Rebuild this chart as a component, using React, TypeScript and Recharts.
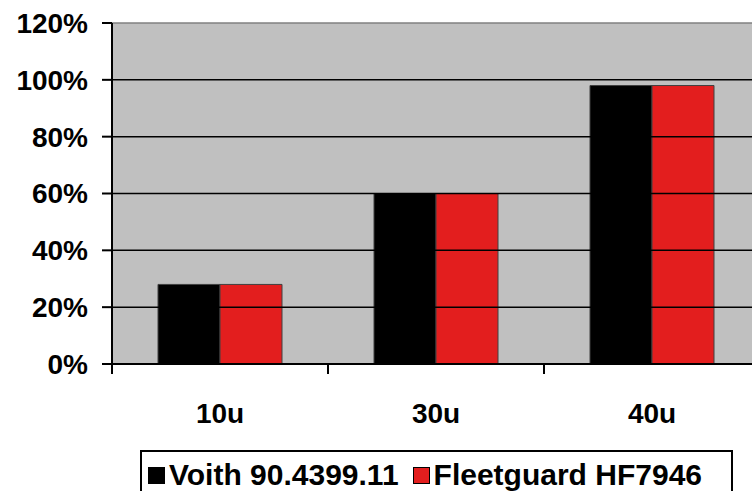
import React from "react";
import { ComposedChart, Bar, XAxis, YAxis, CartesianGrid, ReferenceLine } from "recharts";

const categories = ["10u", "30u", "40u"];
const seriesNames = ["Voith 90.4399.11", "Fleetguard HF7946"];
const voith = [0.28, 0.6, 0.98];
const fleetguard = [0.28, 0.6, 0.98];
const yTicks = [0, 0.2, 0.4, 0.6, 0.8, 1.0, 1.2];
const gridValues = [0.2, 0.4, 0.6, 0.8, 1.0];

const colors = ["#000000", "#E31E1E"];
const FONT = "'Liberation Sans', Arial, sans-serif";

const data = categories.map((c, i) => ({ name: c, voith: voith[i], fleet: fleetguard[i] }));

const TICK_MARGIN = 33;
const TICK_SIZE = 6;

const CategoryTick = (props: any) => {
  const { x, y, payload, index } = props;
  const half = payload && payload.offset ? payload.offset : 0;
  const axisY = y - TICK_MARGIN - TICK_SIZE;
  return (
    <g>
      <line x1={x - half} x2={x - half} y1={axisY - 1} y2={axisY + 10} stroke="#000" strokeWidth={2} />
      {index === categories.length - 1 && (
        <line x1={x + half} x2={x + half} y1={axisY - 1} y2={axisY + 10} stroke="#000" strokeWidth={2} />
      )}
      <text
        x={x}
        y={y}
        dy="0.71em"
        textAnchor="middle"
        fill="#000"
        fontSize={28}
        fontWeight="bold"
        fontFamily={FONT}
      >
        {payload.value}
      </text>
    </g>
  );
};

export default function App() {
  return (
    <div style={{ position: "absolute", left: 0, top: 0, width: 752, height: 491, overflow: "hidden", background: "#fff" }}>
      <ComposedChart
        width={770}
        height={491}
        data={data}
        margin={{ top: 23, right: 10, bottom: 0, left: 0 }}
        barCategoryGap={46}
        barGap={0}
      >
        <CartesianGrid horizontal={false} vertical={false} fill="#C0C0C0" />
        {gridValues.map((v) => (
          <ReferenceLine key={v} y={v} stroke="#000" strokeWidth={1.5} />
        ))}
        <ReferenceLine y={1.2} stroke="#808080" strokeWidth={1.5} />
        <XAxis
          dataKey="name"
          height={127}
          tickLine={false}
          tickSize={TICK_SIZE}
          tickMargin={TICK_MARGIN}
          interval={0}
          axisLine={{ stroke: "#000", strokeWidth: 2 }}
          tick={CategoryTick}
        />
        <YAxis
          width={112}
          domain={[0, 1.2]}
          ticks={yTicks}
          interval={0}
          tickSize={10}
          tickMargin={14}
          tickFormatter={(v: number) => `${Math.round(v * 100)}%`}
          axisLine={{ stroke: "#000", strokeWidth: 2 }}
          tickLine={{ stroke: "#000", strokeWidth: 2 }}
          tick={{ fill: "#000", fontSize: 28, fontWeight: "bold", fontFamily: FONT }}
        />
        <Bar dataKey="voith" name={seriesNames[0]} fill={colors[0]} stroke="#404040" strokeWidth={1} isAnimationActive={false} />
        <Bar dataKey="fleet" name={seriesNames[1]} fill={colors[1]} stroke="#404040" strokeWidth={1} isAnimationActive={false} />
      </ComposedChart>
      <div
        style={{
          position: "absolute",
          left: 140,
          top: 450,
          width: 593,
          height: 50,
          border: "2px solid #000",
          boxSizing: "border-box",
          display: "flex",
          alignItems: "flex-start",
          paddingTop: 7,
          paddingLeft: 6,
          fontFamily: FONT,
          fontWeight: "bold",
          fontSize: 30,
          color: "#000",
          background: "#fff",
          whiteSpace: "nowrap",
        }}
      >
        {seriesNames.map((n, i) => (
          <div key={n} style={{ display: "flex", alignItems: "center", marginRight: 14 }}>
            <span
              style={{
                display: "inline-block",
                width: 17,
                height: 17,
                background: colors[i],
                border: "1px solid #000",
                boxSizing: "border-box",
                marginRight: 4,
              }}
            />
            <span style={{ lineHeight: "32px" }}>{n}</span>
          </div>
        ))}
      </div>
    </div>
  );
}
